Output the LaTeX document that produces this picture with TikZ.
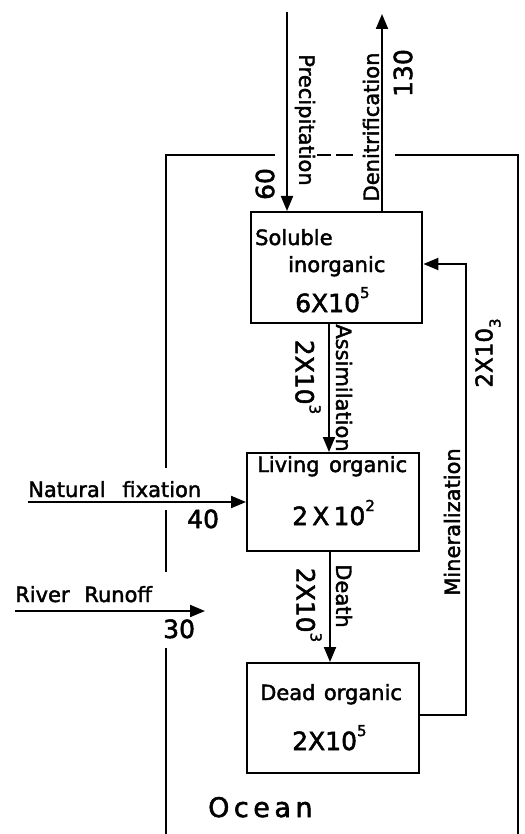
\documentclass[tikz,border=0pt]{standalone}
\usepackage{fontspec}
\setmainfont{DejaVu Sans}[FakeBold=2]
\usetikzlibrary{arrows.meta}
\newcommand\expo[2][14pt]{\raisebox{#1}{\fontsize{15}{15}\selectfont #2}}
\begin{document}
\begin{tikzpicture}[x=1pt,y=-1pt,
  box/.style={draw,line width=2.4pt,inner sep=0pt,anchor=north west},
  flow/.style={line width=2pt,-{Triangle[length=15pt,width=12pt]}},
  frame/.style={line width=2pt},
  lab/.style={inner sep=0pt,font=\fontsize{21}{21}\selectfont},
  num/.style={inner sep=0pt,font=\fontsize{25}{25}\selectfont},
  numsm/.style={inner sep=0pt,font=\fontsize{23}{23}\selectfont},
  big/.style={inner sep=0pt,font=\fontsize{27}{27}\selectfont},
]
\useasboundingbox (0,0) rectangle (524,834);

% ocean frame
\draw[frame] (275,155) -- (166,155) -- (166,468);
\draw[frame] (166,510) -- (166,572);
\draw[frame] (166,648) -- (166,834);
\draw[frame] (317,155) -- (331,155);
\draw[frame] (336,155) -- (353,155);
\draw[frame] (395,155) -- (518,155) -- (518,834);

% boxes
\node[box,minimum width=171pt,minimum height=111pt] (sol) at (250,211) {};
\node[box,minimum width=172pt,minimum height=98pt] (liv) at (246,452) {};
\node[box,minimum width=172pt,minimum height=110pt] (dead) at (246,662) {};

% box texts
\node[lab,anchor=base west] (soltxt1) at (255,245) {Soluble};
\node[lab,anchor=base west] (soltxt2) at (288,272) {inorganic};
\node[num,anchor=base west] (solnum) at (295,312) {6X10\expo{5}};
\node[lab,anchor=base west] (livtxt) at (257,472) {Living\hspace{0.45em}organic};
\node[num,anchor=base west] (livnum) at (292,525) {2\,X\,10\expo{2}};
\node[lab,anchor=base west] (deadtxt) at (260,700) {Dead\hspace{0.4em}organic};
\node[num,anchor=base west] (deadnum) at (292,750) {2X10\expo{5}};
\node[big,anchor=base west] (ocean) at (208,817) {O\,c\,e\,a\,n};

% free ends
\coordinate (ptop) at (287,12);
\coordinate (dtop) at (382,14);
\coordinate (nfx) at (28,502);
\coordinate (rr0) at (15,611);
\coordinate (rr1) at (205,611);
\coordinate (mc1) at (466,715);
\coordinate (mc2) at (466,264);

% flows
\draw[flow] (ptop) -- (ptop |- sol.north);
\draw[flow] (dtop |- sol.north) -- (dtop);
\draw[flow] (sol.south -| 329,0) -- (liv.north -| 329,0);
\draw[flow] (liv.south -| 330,0) -- (dead.north -| 330,0);
\draw[flow] (nfx) -- (nfx -| liv.west);
\draw[flow] (rr0) -- (rr1);
\draw[flow] (mc1 -| dead.east) -- (mc1) -- (mc2) -- (mc2 -| sol.east);

% labels
\node[lab,rotate=-90] (prec) at (305,120) {Precipitation};
\node[num,rotate=90] (n60) at (265,184) {60};
\node[lab,rotate=90] (denit) at (371,127) {Denitrification};
\node[num,rotate=90] (n130) at (403,73) {130};
\node[lab,rotate=-90] (assim) at (344,388) {Assimilation};
\node[num,rotate=-90] (nassim) at (308,377) {2X10\expo{3}};
\node[lab,rotate=-90] (death) at (344,596) {Death};
\node[num,rotate=-90] (ndeath) at (309,605) {2X10\expo{3}};
\node[lab,rotate=90] (miner) at (452,522) {Mineralization};
\node[numsm,rotate=90] (nminer) at (488,353) {2X10\expo[-8pt]{3}};
\node[lab,anchor=base west] (natfix) at (28,497) {Natural\hspace{0.8em}fixation};
\node[num,anchor=base west] (n40) at (187,528) {40};
\node[lab,anchor=base west] (river) at (15,602) {River\hspace{0.7em}Runoff};
\node[num,anchor=base west] (n30) at (163,638) {30};
\end{tikzpicture}
\end{document}
